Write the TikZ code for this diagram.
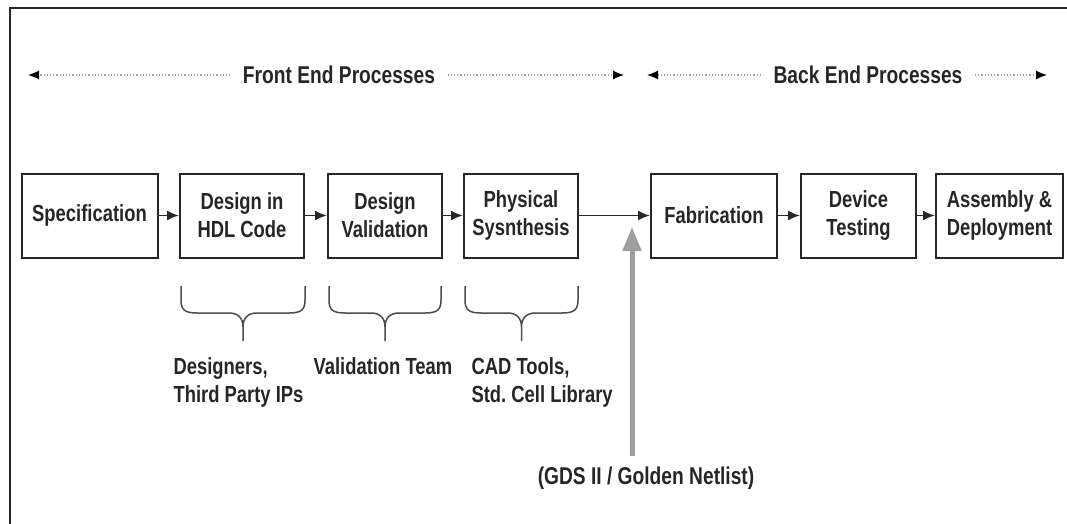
\documentclass[tikz,border=0pt]{standalone}
\usepackage{fontspec}
\setmainfont{Liberation Sans}[FakeStretch=0.79]
\usetikzlibrary{arrows.meta}
\begin{document}
\begin{tikzpicture}[x=1pt,y=-1pt,
  every node/.style={font=\fontsize{23.3}{28}\selectfont\bfseries, text=black!85},
  stage/.style={draw=black!85, line width=2pt, minimum height=84pt, align=center, inner sep=0pt},
  flow/.style={line width=1.9pt, draw=black!85, -{Latex[length=12pt,width=10pt]}},
  span/.style={draw=black!35, line width=1.2pt, dotted, shorten <=9pt, -{Latex[length=11pt,width=9pt,black]}},
  grouping/.style={draw=black!70, line width=1.5pt, line join=round},
  note/.style={align=left, anchor=north west},
  big/.style={font=\fontsize{24.3}{28}\selectfont\bfseries}]
\useasboundingbox (0,0) rectangle (1067,524);
% frame
\draw[line width=2.4pt, black!85] (1067,8) -- (10,8) -- (10,524);

% process stages
\node[stage, minimum width=136pt] (spec) at (89.5,215.5) {Specification};
\node[stage, minimum width=124pt] (hdl)  at (242,215.5) {Design in\\HDL Code};
\node[stage, minimum width=114pt] (val)  at (385,215.5) {Design\\Validation};
\node[stage, minimum width=114pt] (phys) at (521,215.5) {Physical\\Sysnthesis};
\node[stage, minimum width=126pt] (fab)  at (714,215.5) {Fabrication};
\node[stage, minimum width=115pt] (test) at (858.5,215.5) {Device\\Testing};
\node[stage, minimum width=127pt] (asm)  at (999.5,215.5) {Assembly \&\\Deployment};

\draw[flow] (spec) -- (hdl);
\draw[flow] (hdl) -- (val);
\draw[flow] (val) -- (phys);
\draw[flow] (phys) -- (fab);
\draw[flow] (fab) -- (test);
\draw[flow] (test) -- (asm);

% front end / back end spans
\node[big] (fe) at (339,75) {Front End Processes};
\node[big] (be) at (868,75) {Back End Processes};
\coordinate (feL) at (28,75);
\coordinate (feR) at (624,75);
\coordinate (beL) at (647,75);
\coordinate (beR) at (1047,75);
\draw[span] (fe.west) -- (feL);
\draw[span] (fe.east) -- (feR);
\draw[span] (be.west) -- (beL);
\draw[span] (be.east) -- (beR);

% braces grouping the resources of each front-end stage
\foreach \l/\r [count=\i] in {181/305, 329/441, 465/578}{
  \pgfmathsetmacro{\m}{(\l+\r)/2}
  \draw[grouping] (\l,286) -- (\l,300) .. controls (\l,310) and (\l+4,313) .. (\l+16,313)
    -- (\m-14,313) .. controls (\m-5,313) and (\m,318) .. (\m,327) -- (\m,341)
    (\r,286) -- (\r,300) .. controls (\r,310) and (\r-4,313) .. (\r-16,313)
    -- (\m+14,313) .. controls (\m+5,313) and (\m,318) .. (\m,327);
}

\node[note] (who)  at (170,354) {Designers,\\Third Party IPs};
\node[note] (team) at (310,354) {Validation Team};
\node[note] (cad)  at (468,354) {CAD Tools,\\Std.\ Cell Library};

% hand-off to fabrication
\node[big] (gds) at (646,478) {(GDS II / Golden Netlist)};
\coordinate (gdsTop) at (632,456);
\coordinate (gdsTip) at (632,227);
\draw[draw=black!38, line width=5pt, -{Triangle[length=24pt,width=18pt,fill=black!38]}] (gdsTop) -- (gdsTip);
\end{tikzpicture}
\end{document}
